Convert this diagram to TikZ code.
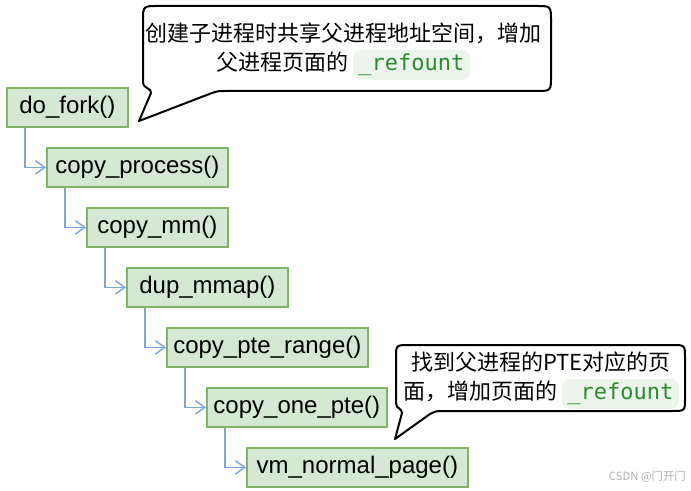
\documentclass[tikz,border=0pt]{standalone}
\usepackage{fontspec}
\setmainfont{Liberation Sans}
\setmonofont{DejaVu Sans Mono}[Scale=1.0]
\newfontfamily\cjk{Noto Sans CJK SC}
\usetikzlibrary{arrows.meta}
\definecolor{boxfill}{HTML}{D5E8D4}
\definecolor{boxline}{HTML}{82B366}
\definecolor{arrowblue}{HTML}{7EA6E0}
\definecolor{codebg}{HTML}{EDF4EB}
\definecolor{codegreen}{HTML}{2A8C2E}
\newcommand\codebit[1]{\tikz[baseline=(cb.base)]\node[fill=codebg,rounded corners=6pt,inner xsep=4pt,inner ysep=3pt,text=codegreen](cb){\ttfamily #1};}
\tikzset{
  fnbox/.style={draw=boxline, fill=boxfill, line width=1.3pt, anchor=north west,
    minimum height=29.25pt, inner sep=0pt, font=\fontsize{18}{20}\selectfont},
  conn/.style={draw=arrowblue, line width=1.1pt,
    -{Straight Barb[length=7pt,width=10pt,line width=1.1pt]}},
  bubble/.style={draw=black, line width=1.5pt, fill=white, line join=round},
  btext/.style={font=\cjk\fontsize{16.5}{21.75}\selectfont, align=center}
}
\begin{document}
\begin{tikzpicture}[x=0.75pt,y=-0.75pt]
\useasboundingbox (0,0) rectangle (691,491);

% function boxes
\node[fnbox, minimum width=90.75pt]  (f1) at (6,87)   {do\_fork()};
\node[fnbox, minimum width=135.75pt] (f2) at (46,147)  {copy\_process()};
\node[fnbox, minimum width=105.75pt] (f3) at (86,207)  {copy\_mm()};
\node[fnbox, minimum width=120.75pt] (f4) at (126,267) {dup\_mmap()};
\node[fnbox, minimum width=150.75pt] (f5) at (166,327) {copy\_pte\_range()};
\node[fnbox, minimum width=135pt]    (f6) at (206,387) {copy\_one\_pte()};
\node[fnbox, minimum width=165.75pt] (f7) at (246,447) {vm\_normal\_page()};

% connectors
\draw[conn] ([xshift=14.25pt]f1.south west) |- (f2.west);
\draw[conn] ([xshift=14.25pt]f2.south west) |- (f3.west);
\draw[conn] ([xshift=14.25pt]f3.south west) |- (f4.west);
\draw[conn] ([xshift=14.25pt]f4.south west) |- (f5.west);
\draw[conn] ([xshift=14.25pt]f5.south west) |- (f6.west);
\draw[conn] ([xshift=14.25pt]f6.south west) |- (f7.west);

% callout 1
\draw[bubble] (139,121) -- (212,93) .. controls (218,91) .. (228,91)
  -- (536,91) .. controls (551,91) .. (551,76)
  -- (551,21) .. controls (551,6) .. (536,6)
  -- (158,6) .. controls (143,6) .. (143,21)
  -- (143,82) .. controls (143,89) and (152,88) .. (151,93) -- cycle;
\node[btext] (t1) at (343,51.5) {创建子进程时共享父进程地址空间，增加\\父进程页面的 \codebit{\_refount}};

% callout 2
\draw[bubble] (395,439) -- (430,414) .. controls (436,411) .. (445,411)
  -- (672,411) .. controls (685,411) .. (685,398)
  -- (685,358) .. controls (685,345) .. (672,345)
  -- (409,345) .. controls (396,345) .. (396,358)
  -- (396,403) .. controls (396,409) and (402,408) .. (402,413) -- cycle;
\node[btext] (t2) at (541,380.5) {找到父进程的PTE对应的页\\面，增加页面的 \codebit{\_refount}};

% watermark
\node[font=\cjk\fontsize{8.5}{10}\selectfont, text=black!30, anchor=east, inner sep=0pt] (wm) at (686,477) {CSDN @门开门};
\end{tikzpicture}
\end{document}
